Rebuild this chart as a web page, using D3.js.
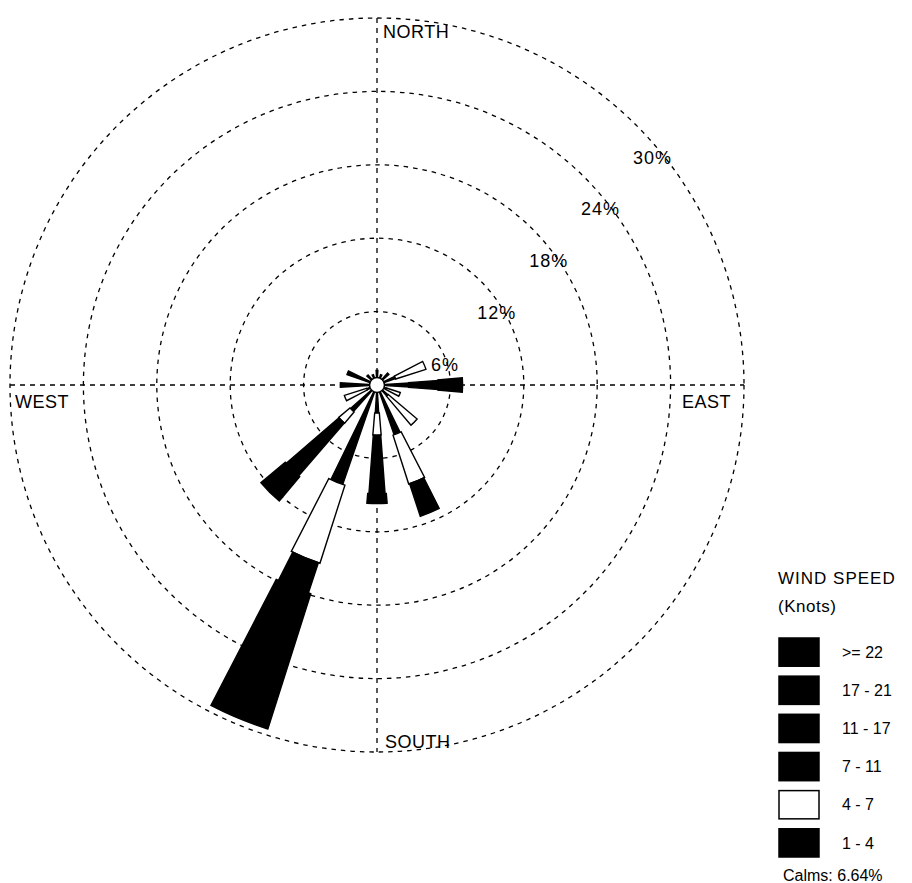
<!DOCTYPE html>
<html>
<head>
<meta charset="utf-8">
<script src="https://cdn.jsdelivr.net/npm/d3@7"></script>
<style>
  html, body { margin: 0; padding: 0; background: #fff; }
  svg { display: block; font-family: "Liberation Sans", Arial, sans-serif; }
</style>
</head>
<body>
<svg id="rose" width="912" height="883"></svg>
<script>
// 16 compass sectors, clockwise from north
const directions = ["N","NNE","NE","ENE","E","ESE","SE","SSE","S","SSW","SW","WSW","W","WNW","NW","NNW"];

// Frequency (%) of each speed class per direction
const speed1to4   = [1.2, 0.9, 1.3, 1.6, 2.6, 0.8, 1.2, 4.3, 2.3, 8.6, 2.9, 0.9, 3.0, 2.6, 1.1, 0.9];
const speed4to7   = [0,   0,   0,   2.6, 0,   1.2, 3.1, 4.2, 1.8, 6.7, 1.2, 1.9, 0,   0,   0,   0  ];
const speed7to11  = [0,   0,   0,   0,   2.4, 0,   0,   2.8, 4.8, 2.6, 5.7, 0,   0,   0,   0,   0  ];
const speed11to17 = [0,   0,   0,   0,   2.0, 0,   0,   0,   0.8, 11.6, 2.6, 0,  0,   0,   0,   0  ];
const speed17to21 = [0,   0,   0,   0,   0,   0,   0,   0,   0,   0,   0,   0,   0,   0,   0,   0  ];
const speed22up   = [0,   0,   0,   0,   0,   0,   0,   0,   0,   0,   0,   0,   0,   0,   0,   0  ];

// Speed classes from the centre outwards
const classNames  = ["1 - 4", "4 - 7", "7 - 11", "11 - 17", "17 - 21", ">= 22"];
const classValues = [speed1to4, speed4to7, speed7to11, speed11to17, speed17to21, speed22up];
const classFill   = ["#000", "#fff", "#000", "#000", "#000", "#000"];
const classWidth  = [7, 9.5, 8.5, 9.8, 11, 12];   // petal width in degrees

const ringTicks = [6, 12, 18, 24, 30];
const calms = 6.64;

const svg = d3.select("#rose");
const cx = 377, cy = 385;
const r = d3.scaleLinear().domain([0, 30]).range([0, 367]);
const rad = d => d * Math.PI / 180;

const g = svg.append("g").attr("transform", `translate(${cx},${cy})`);

// Dashed percentage rings
g.selectAll("circle.ring").data(ringTicks).join("circle")
  .attr("class", "ring")
  .attr("r", d => r(d))
  .attr("fill", "none")
  .attr("stroke", "#000")
  .attr("stroke-width", 1.3)
  .attr("stroke-dasharray", "4.5,5");

// Dashed cross axes
const outer = r(30);
g.append("line").attr("x1", 0).attr("x2", 0).attr("y1", -outer).attr("y2", outer)
  .attr("stroke", "#000").attr("stroke-width", 1.3).attr("stroke-dasharray", "5,5");
g.append("line").attr("y1", 0).attr("y2", 0).attr("x1", -outer).attr("x2", outer)
  .attr("stroke", "#000").attr("stroke-width", 1.3).attr("stroke-dasharray", "5,5");

// Stack the speed classes along each direction
const segments = [];
directions.forEach((dir, i) => {
  let acc = 0;
  classValues.forEach((vals, k) => {
    const v = vals[i];
    if (v > 0) {
      segments.push({dir, angle: i * 22.5, k, r0: acc, r1: acc + v});
    }
    acc += v;
  });
});

const arc = d3.arc()
  .innerRadius(d => r(d.r0))
  .outerRadius(d => r(d.r1))
  .startAngle(d => rad(d.angle - classWidth[d.k] / 2))
  .endAngle(d => rad(d.angle + classWidth[d.k] / 2));

g.selectAll("path.petal").data(segments).join("path")
  .attr("class", "petal")
  .attr("d", arc)
  .attr("fill", d => classFill[d.k])
  .attr("stroke", "#000")
  .attr("stroke-width", 1.4)
  .attr("stroke-linejoin", "miter");

// Calm circle
g.append("circle").attr("r", 7.5).attr("fill", "#fff").attr("stroke", "#000").attr("stroke-width", 1.5);

// Ring labels along the north-east diagonal
g.selectAll("text.tick").data(ringTicks).join("text")
  .attr("class", "tick")
  .attr("x", d => r(d) * Math.SQRT1_2 + 16)
  .attr("y", d => -r(d) * Math.SQRT1_2 + 38)
  .attr("text-anchor", "middle")
  .attr("font-size", 18)
  .attr("letter-spacing", 1)
  .text(d => d + "%");

// Compass labels
const compass = [
  {t: "NORTH", x: 6,    y: -347, anchor: "start"},
  {t: "SOUTH", x: 8,    y: 363,  anchor: "start"},
  {t: "WEST",  x: -362, y: 23,   anchor: "start"},
  {t: "EAST",  x: 305,  y: 23,   anchor: "start"}
];
g.selectAll("text.compass").data(compass).join("text")
  .attr("class", "compass")
  .attr("x", d => d.x).attr("y", d => d.y)
  .attr("text-anchor", d => d.anchor)
  .attr("font-size", 18)
  .attr("letter-spacing", 0.5)
  .text(d => d.t);

// Legend
const legend = svg.append("g").attr("transform", "translate(778,0)");
legend.append("text").attr("x", 0).attr("y", 584).attr("font-size", 17).attr("letter-spacing", 1).text("WIND SPEED");
legend.append("text").attr("x", 0).attr("y", 612).attr("font-size", 17).attr("letter-spacing", 0.5).text("(Knots)");

const legendOrder = d3.range(classNames.length).reverse();
const ly = d3.scaleBand().domain(legendOrder).range([638, 857]).paddingInner(0.26);
legend.selectAll("rect.key").data(legendOrder).join("rect")
  .attr("class", "key")
  .attr("x", 1).attr("y", k => ly(k))
  .attr("width", 40).attr("height", ly.bandwidth())
  .attr("fill", k => classFill[k])
  .attr("stroke", "#000").attr("stroke-width", 1.5);
legend.selectAll("text.key").data(legendOrder).join("text")
  .attr("class", "key")
  .attr("x", 64).attr("y", k => ly(k) + ly.bandwidth() / 2)
  .attr("dy", "0.36em")
  .attr("font-size", 16)
  .text(k => classNames[k]);

legend.append("text").attr("x", 5).attr("y", 881).attr("font-size", 16)
  .text("Calms: " + calms.toFixed(2) + "%");
</script>
</body>
</html>
